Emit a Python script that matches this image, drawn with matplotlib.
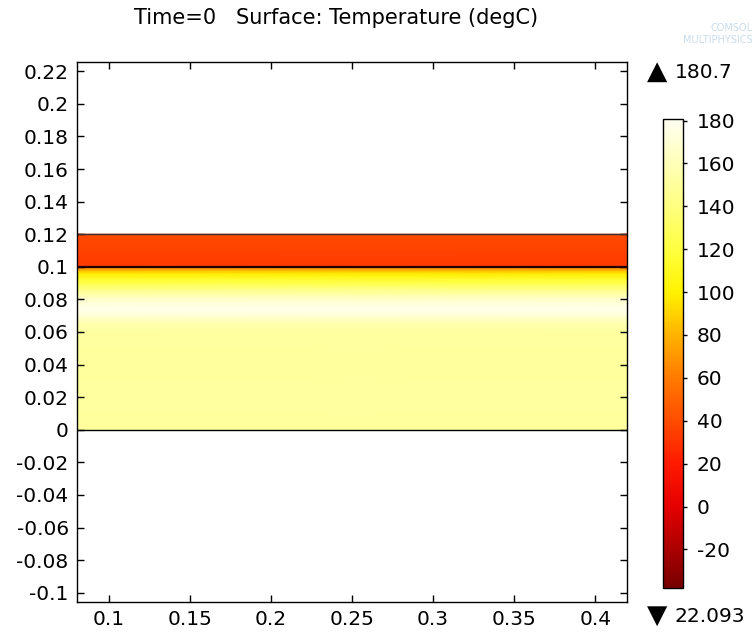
import numpy as np
import matplotlib
matplotlib.use("Agg")
import matplotlib.pyplot as plt
from matplotlib.colors import LinearSegmentedColormap

plt.rcParams["axes.unicode_minus"] = False

# ---------- data ---------- #
# lower domain (0 .. 0.1), temperature profile along y (degC)
y_low = [0.0, 0.02, 0.04, 0.06, 0.066, 0.07, 0.074, 0.078, 0.082, 0.086,
         0.09, 0.093, 0.096, 0.098, 0.1]
t_low = [150, 151, 150, 151, 157, 170, 178, 172, 160, 143,
         124, 112, 97, 80, 58]
# upper domain (0.1 .. 0.12)
y_up = [0.1, 0.11, 0.12]
t_up = [33, 36, 39]

x_span = [0.0805, 0.4195]
t_max = 180.7
t_min = 22.093
cbar_ticks = [-20, 0, 20, 40, 60, 80, 100, 120, 140, 160, 180]
x_ticks = [0.1, 0.15, 0.2, 0.25, 0.3, 0.35, 0.4]
y_ticks = [-0.1, -0.08, -0.06, -0.04, -0.02, 0, 0.02, 0.04, 0.06, 0.08,
           0.1, 0.12, 0.14, 0.16, 0.18, 0.2, 0.22]

# colour table of the colorbar (value, rgb)
cmap_vals = [-38, -20, 0, 20, 40, 60, 80, 100, 120, 140, 160, 180.7]
cmap_rgb = [(0.47, 0, 0), (0.67, 0, 0), (0.90, 0, 0), (1.0, 0.1, 0),
            (1.0, 0.3, 0), (1.0, 0.48, 0), (1.0, 0.7, 0), (1.0, 0.95, 0),
            (1.0, 1.0, 0.25), (1.0, 1.0, 0.5), (1.0, 1.0, 0.72), (1.0, 1.0, 0.95)]

vmin, vmax = cmap_vals[0], cmap_vals[-1]
pos = [(v - vmin) / (vmax - vmin) for v in cmap_vals]
cmap = LinearSegmentedColormap.from_list("thermal", list(zip(pos, cmap_rgb)))

fig = plt.figure(figsize=(7.54, 6.32), dpi=100)
ax = fig.add_axes([0.1021, 0.0475, 0.7294, 0.8544])

for ys, ts in [(y_low, t_low), (y_up, t_up)]:
    X, Y = np.meshgrid(x_span, ys)
    C = np.repeat(np.array(ts, dtype=float)[:, None], 2, axis=1)
    mesh = ax.pcolormesh(X, Y, C, shading="gouraud", cmap=cmap,
                         vmin=vmin, vmax=vmax)

ax.axhline(0.0, color="black", lw=1.0)
ax.axhline(0.1, color="#200000", lw=1.6)
ax.axhline(0.12, color="#333333", lw=1.0)

ax.set_xlim(x_span)
ax.set_ylim(-0.1057, 0.2257)
ax.set_xticks(x_ticks)
ax.set_xticklabels([f"{v:g}" for v in x_ticks])
ax.set_yticks(y_ticks)
ax.set_yticklabels([f"{v:g}" for v in y_ticks])
ax.tick_params(direction="in", length=5, width=1, top=True, right=True,
               labelsize=14.5, pad=6)
for s in ax.spines.values():
    s.set_linewidth(1.0)

fig.text(0.446, 0.971, "Time=0   Surface: Temperature (degC)", fontsize=15,
         ha="center", va="center")

# ---------- colorbar ---------- #
cax = fig.add_axes([0.8793, 0.0696, 0.0265, 0.7421])
cb = fig.colorbar(mesh, cax=cax, ticks=cbar_ticks)
cb.outline.set_linewidth(1.0)
cax.tick_params(direction="out", length=3, width=1, labelsize=14.5, pad=7)

# max / min markers
fig.text(0.858, 0.886, "\u25B2", fontsize=19, va="center", ha="left")
fig.text(0.895, 0.886, f"{t_max:g}", fontsize=14.5, va="center", ha="left")
fig.text(0.858, 0.025, "\u25BC", fontsize=19, va="center", ha="left")
fig.text(0.895, 0.025, f"{t_min:g}", fontsize=14.5, va="center", ha="left")

# faint watermark
fig.text(0.998, 0.955, "COMSOL", fontsize=7, color="#c8dcea", ha="right",
         va="center")
fig.text(0.998, 0.937, "MULTIPHYSICS", fontsize=7, color="#c8dcea", ha="right",
         va="center")

fig.savefig("out.png", dpi=100)
